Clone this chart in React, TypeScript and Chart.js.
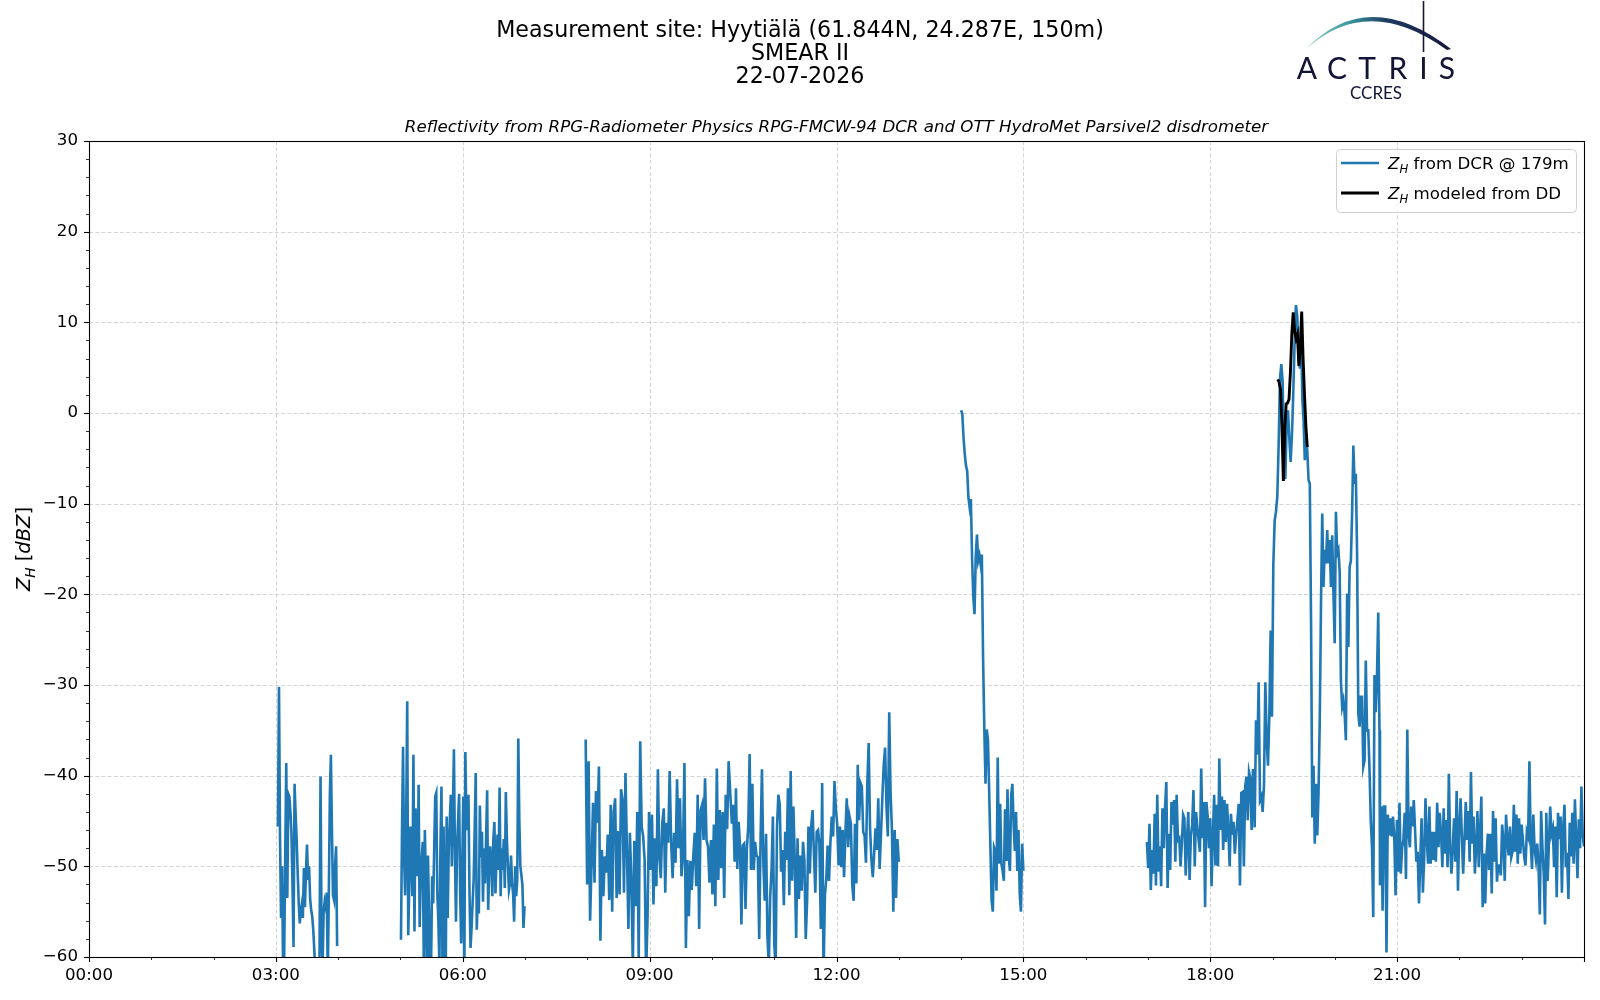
import React, { useEffect, useRef } from 'react';
import { Chart, registerables } from 'chart.js';

Chart.register(...registerables);

// ---------------- text ----------------
const TITLE_LINES = ['Measurement site: Hyytiälä (61.844N, 24.287E, 150m)', 'SMEAR II', '22-07-2026'];
const SUBTITLE = 'Reflectivity from RPG-Radiometer Physics RPG-FMCW-94 DCR and OTT HydroMet Parsivel2 disdrometer';
const LEGEND_DCR = ' from DCR @ 179m';
const LEGEND_DD = ' modeled from DD';

// ---------------- axes ----------------
const X_MIN_H = 0;
const X_MAX_H = 24;
const X_LABEL_HOURS = [0, 3, 6, 9, 12, 15, 18, 21];
const X_MINOR_HOURS = [0, 1, 2, 3, 4, 5, 6, 7, 8, 9, 10, 11, 12, 13, 14, 15, 16, 17, 18, 19, 20, 21, 22, 23, 24];
const Y_MIN = -60;
const Y_MAX = 30;
const Y_MAJOR = [-60, -50, -40, -30, -20, -10, 0, 10, 20, 30];
const Y_MINOR = [-58, -56, -54, -52, -48, -46, -44, -42, -38, -36, -34, -32, -28, -26, -24, -22, -18, -16, -14, -12, -8, -6, -4, -2, 2, 4, 6, 8, 12, 14, 16, 18, 22, 24, 26, 28];

// ---------------- DCR reflectivity (dBZ), pieces of the time series ----------------
// 03:02 - 03:59
const dcr0302 = [-45.6, -30.2, -47, -55.7, -50, -62, -60, -49, -38.6, -53.5, -42, -42.3, -44, -46.3, -52, -58.9, -40.9, -44.2, -47, -50.7,
  -54, -56.3, -55, -54.2, -55.7, -50.2, -54.5, -50.5, -47.6, -51.5, -50, -53.6, -54.8, -55.5, -57, -59.2, -62, -65, -68, -66,
  -61, -40.1, -57.3, -61, -55, -53.9, -54.5, -52.9, -62, -53, -42.1, -37.7, -46, -53.2, -53.7, -50, -47.8, -58.8];
// 05:00 - 07:00
const dcr0500 = [-58.1, -46, -36.8, -49, -53.2, -45.3, -31.8, -57.6, -52, -45.6, -49, -53.3, -37.7, -57.2, -43.6, -47, -51.1, -41, -56.7, -51.5,
  -49, -47.3, -61, -46, -52, -62, -48.8, -55, -63, -61, -51.1, -54.1, -48, -42.3, -41.9, -53, -56, -61, -48, -41.2,
  -62, -45.6, -55, -64, -44.5, -55.7, -48.2, -45, -42.1, -50, -43.8, -37.1, -49, -56.1, -47.8, -45, -42, -53, -58.5, -50,
  -42.3, -63, -37.4, -44.9, -46, -42.1, -53, -59, -56.8, -54, -51.5, -46, -39.7, -57, -53, -55.2, -43.3, -49, -46.2, -53.9,
  -48, -51.9, -47, -41.6, -54.8, -50, -47.8, -49.7, -53.3, -47, -45.1, -53, -49, -46.5, -50.4, -41.3, -53.3, -48, -50.4, -47,
  -52.4, -41.8, -46.9, -50, -52.6, -51.9, -48.8, -51.9, -53, -56.1, -50, -53.3, -51.5, -35.9, -45, -50, -51, -52.1, -56.8, -54.4];
// 07:58 - 10:16
const dcr0758 = [-36, -52, -38.4, -56, -49.8, -43, -51.8, -41.7, -45.2, -39, -58.2, -48.2, -53.3, -48.9, -50.7, -46.5, -53.7, -43.2, -55, -44,
  -42.5, -53.5, -46.1, -53.1, -41.5, -42.6, -52.9, -39.7, -48.2, -56.9, -46.3, -51.5, -61, -47.2, -54.4, -44, -60.5, -36.2, -45.6, -46.7,
  -49.3, -62, -55.5, -44, -50.4, -44.3, -54.2, -46.9, -52.2, -39.3, -49.1, -51.3, -45.2, -43.6, -52.9, -45.2, -47.4, -39.5, -47.4, -51.3,
  -46.3, -49.6, -40.4, -48, -42.5, -51.1, -48.9, -38.6, -59, -49.3, -55.5, -49.4, -52.6, -48.9, -46.3, -52.2, -42.1, -56.9, -43.8, -43.2,
  -47.1, -40.3, -47.1, -47.8, -51.8, -47.1, -53.1, -45.4, -54.4, -39.2, -51.5, -43.8, -50.2, -44, -53.5, -42.1, -45.9, -38.4];
// 10:19 - 13:00
const dcr1019 = [-45.3, -43.2, -49.5, -41.4, -50.3, -45.1, -47.9, -56.4, -47.7, -47.5, -54.7, -48, -45.6, -37.6, -50.4, -40.9, -50.4, -47.3, -48.8, -49,
  -58, -46.9, -39.3, -49.5, -53.8, -46.4, -57.7, -61, -53.4, -50.4, -44.5, -58.6, -61, -45.6, -42.1, -43.2, -50.6, -48.2, -54.3, -46.2,
  -49.3, -41.4, -53.2, -39.5, -51.6, -43.4, -49.5, -57.9, -46.9, -53.6, -48.8, -52.7, -47.3, -49.3, -58, -53.8, -45.6, -50.8, -45.6, -43.8,
  -48.6, -52.9, -46.2, -46, -47.5, -56.9, -40.8, -62, -53.2, -51.4, -47.7, -51.6, -47.5, -44.5, -46.7, -40.6, -43.6, -45.4, -49.9, -45.6,
  -50.1, -46, -51.2, -46.2, -42.5, -47.9, -44.5, -45.3, -52.1, -53.8, -45.3, -51.9, -38.8, -44.9, -40.8, -41.2, -46.2, -46.6, -49.6, -40.8,
  -36.4, -45.8, -49.3, -51.2, -48.6, -45.8, -48.2, -42.5, -50.3, -46.4, -42.3, -38.8, -36.9, -43.4, -46.7, -33, -41.9, -46, -55, -46,
  -53.5, -47, -49.5];
// 14:00 - 15:00
const dcr1400 = [0.3, -0.1, -2.7, -4.5, -5.8, -6.4, -9.3, -10.4, -9.5, -15.9, -20.3, -22.2, -15.9, -13.4, -16.3, -15.7, -16.7, -15.6, -26.9, -34.7,
  -40.9, -34.9, -36.1, -41.7, -47.9, -53.8, -55, -47.9, -48.3, -52.7, -38, -49.7, -43.1, -49.7, -50.5, -51.6, -43.7, -49.4, -41.5, -49,
  -50.5, -42.2, -40.9, -45.3, -48.3, -44, -50.5, -46, -53, -55, -47.5, -50.5];
// 16:59 - 18:41
const dcr1659 = [-47.3, -50.2, -45.3, -52.6, -48.2, -50.8, -44.2, -52.1, -42.1, -50.6, -47.8, -52.2, -43.6, -48, -43.6, -40.7, -52.4, -46.4, -50.4, -42.9,
  -45.4, -42.7, -49.5, -42.1, -47.1, -46.9, -50, -47.5, -44.3, -44.7, -51, -47.1, -44, -51.5, -46.7, -45.4, -41.6, -50, -44, -45.6,
  -47.1, -48.4, -39.2, -46.9, -42.9, -54.5, -42.9, -44.5, -48, -44.7, -52.2, -46.7, -42.1, -49.9, -43.2, -50, -38.1, -46, -42.3, -48.2,
  -42.7, -47.3, -43.1, -46, -50, -44.2, -46.5, -45.1, -48.6, -46.5, -44.9, -43.1, -52.1, -41.9, -41.8, -50, -41.2, -40.1, -44.9, -39.6,
  -40.3, -46, -39.4];
// 18:41 - 19:26
const dcr1841 = [-39.4, -45.7, -33.9, -37.7, -29.7, -42.7, -42.3, -44, -41, -29.7, -36, -38.9, -33.5, -24, -33.5, -16.8, -11.9, -10.9, -9.2, -3.5,
  3.7, 5.4, 3.5, -5, -7.3, -1.4, 0.3, -2.7, -5.4, -2.4, 2.2, 7.9, 11.9, 10.6, 6, 4.9];
// 19:27 - 20:43
const dcr1927 = [9.5, 1.5, -0.8, -5.2, -2.6, -4.2, -7.4, -7.8, -22.9, -44.6, -38.9, -47.5, -40.9, -46.6, -42, -33.9, -21, -11.1, -19.2, -15.1,
  -16.6, -12.9, -16.6, -14, -19.2, -13.5, -19.9, -25.4, -10.9, -15.5, -15.1, -17.4, -29.5, -32.4, -31.7, -33.2, -36.1, -19.9, -25.8, -17,
  -16.3, -11.1, -3.6, -7.8, -6.7, -15.5, -33.2, -34.6, -31.3, -31.3, -39, -38.3, -27.3, -35, -35, -39.4, -44.9, -47.9, -55.6, -28.9,
  -33, -29, -22, -35];
// 20:43 - 24:00
const dcr2043 = [-52.1, -43.4, -54.9, -43.4, -43.4, -59.5, -44.3, -46.6, -44.7, -46.7, -44.5, -46.9, -53.2, -44.9, -50.6, -43, -50.8, -48, -47.1, -44.1,
  -51.4, -34.9, -46.4, -47.9, -43.4, -45.6, -42.7, -46, -49.5, -48.4, -54.1, -49.3, -44.7, -52.9, -49.1, -42.5, -47.1, -49.7, -43.4, -49.7,
  -46.2, -49.3, -46.2, -49.5, -43, -47.9, -44.1, -46.4, -50.1, -43.6, -48.6, -44.9, -50.1, -39.8, -47.9, -50.8, -48, -44.7, -49.5, -41.7,
  -52.7, -45.6, -42.5, -46.7, -50.8, -47.1, -42.9, -47.1, -43.9, -49.5, -39.6, -47.5, -44.5, -50.8, -47.9, -43.9, -50.1, -46.2, -42.3, -54.5,
  -48.6, -54.1, -48.8, -46.4, -50.4, -46.4, -53, -43.9, -49.5, -44.7, -51.7, -49.9, -49.9, -51, -45.4, -47.1, -51.6, -44.3, -47.1, -48.8,
  -45.6, -49, -48.4, -43.2, -48.4, -44.3, -49.7, -44.7, -48.6, -45.4, -47.1, -49, -49.9, -46.2, -46.7, -38.4, -47.5, -50.3, -44.3, -48.2,
  -49.3, -47.5, -49.9, -55.3, -43.9, -47.9, -50.8, -56.4, -44.1, -51.6, -47.5, -43.4, -46.4, -45.8, -50.1, -45.6, -53.4, -44.1,
  -47, -44.5, -52.9, -45.8, -43.2, -50.1, -48.5, -53.6, -45.2, -48.9, -44.1, -49.7, -42.6, -47.2, -51.3, -44.8, -48, -41.2, -46.5, -47.8];

// piece timing: [start minute of day, end minute of day, values, starts a new line]
const dcrPieces: [number, number, number[], boolean][] = [
  [182, 239, dcr0302, true],
  [300.5, 419.5, dcr0500, true],
  [478.4, 616.1, dcr0758, true],
  [619.2, 780, dcr1019, false],
  [840, 900, dcr1400, true],
  [1019, 1121.1, dcr1659, true],
  [1121.5, 1166.4, dcr1841, false],
  [1167.5, 1243, dcr1927, false],
  [1243.5, 1440, dcr2043, false],
];

// ---------------- disdrometer-modelled reflectivity (dBZ) ----------------
const ddStartMin = 1145;
const ddEndMin = 1173.5;
const ddValues = [3.7, 3.4, 2.6, -1.6, -7.5, -1.6, 1.0, 1.1, 1.5, 4.5, 8.7, 11.1, 9.0, 8.2, 8.7, 5.2, 7.0, 11.2, 6.0, 2.0, -1.5, -3.75];

// ---------------- colours ----------------
const BLUE = '#1f77b4';
const BLACK = '#000000';

type Pt = { x: number; y: number | null };

function piecePoints(start: number, end: number, vals: number[]): Pt[] {
  const n = vals.length;
  return vals.map((v, i) => ({ x: (start + (n > 1 ? ((end - start) * i) / (n - 1) : 0)) / 60, y: v }));
}

function buildDcr(): Pt[] {
  const pts: Pt[] = [];
  dcrPieces.forEach(([s, e, vals, brk]) => {
    if (brk && pts.length) pts.push({ x: s / 60 - 0.005, y: null });
    pts.push(...piecePoints(s, e, vals));
  });
  return pts;
}

type Part = { t: string; it?: boolean; sub?: boolean };
const FAMILY = '"DejaVu Sans"';

function partFont(p: Part, size: number) {
  const s = p.sub ? size * 0.7 : size;
  return `${p.it ? 'italic ' : ''}${s}px ${FAMILY}`;
}

function partsWidth(ctx: CanvasRenderingContext2D, parts: Part[], size: number) {
  let w = 0;
  parts.forEach((p) => {
    ctx.font = partFont(p, size);
    w += ctx.measureText(p.t).width;
  });
  return w;
}

function drawParts(ctx: CanvasRenderingContext2D, parts: Part[], x: number, y: number, size: number, center: boolean) {
  const total = partsWidth(ctx, parts, size);
  let cx = center ? x - total / 2 : x;
  ctx.textAlign = 'left';
  ctx.textBaseline = 'alphabetic';
  parts.forEach((p) => {
    ctx.font = partFont(p, size);
    ctx.fillText(p.t, cx, y + (p.sub ? size * 0.24 : 0));
    cx += ctx.measureText(p.t).width;
  });
}

function drawLogo(ctx: CanvasRenderingContext2D) {
  ctx.save();
  const g = ctx.createLinearGradient(1306, 0, 1450, 0);
  g.addColorStop(0, '#86cbc6');
  g.addColorStop(0.3, '#3a98a2');
  g.addColorStop(0.55, '#1f3d62');
  g.addColorStop(1, '#15163a');
  ctx.beginPath();
  ctx.moveTo(1306, 49);
  ctx.quadraticCurveTo(1368, -15, 1451, 49);
  ctx.lineTo(1447, 50);
  ctx.quadraticCurveTo(1368, -7, 1306, 49);
  ctx.closePath();
  ctx.fillStyle = g;
  ctx.fill();
  ctx.strokeStyle = '#15163a';
  ctx.lineWidth = 1.6;
  ctx.beginPath();
  ctx.moveTo(1423.5, 1);
  ctx.lineTo(1423.5, 52);
  ctx.stroke();
  ctx.fillStyle = '#121436';
  ctx.textAlign = 'center';
  ctx.textBaseline = 'alphabetic';
  ctx.font = '30px Lato';
  const letters = ['A', 'C', 'T', 'R', 'I', 'S'];
  const centers = [1307, 1337, 1367, 1398, 1423.5, 1447];
  letters.forEach((l, i) => ctx.fillText(l, centers[i], 78.5));
  ctx.font = '17px Lato';
  ctx.fillText('CCRES', 1376, 99);
  ctx.restore();
}

const overlayPlugin = {
  id: 'overlay',
  beforeDatasetsDraw(chart: any) {
    const { ctx, chartArea: a, scales } = chart;
    const xs = scales.x;
    const ys = scales.y;
    ctx.save();
    ctx.strokeStyle = 'rgba(176,176,176,0.6)';
    ctx.lineWidth = 0.9;
    ctx.setLineDash([4, 2.2]);
    X_LABEL_HOURS.forEach((h) => {
      const px = Math.round(xs.getPixelForValue(h)) + 0.5;
      ctx.beginPath();
      ctx.moveTo(px, a.top);
      ctx.lineTo(px, a.bottom);
      ctx.stroke();
    });
    Y_MAJOR.forEach((v) => {
      const py = Math.round(ys.getPixelForValue(v)) + 0.5;
      ctx.beginPath();
      ctx.moveTo(a.left, py);
      ctx.lineTo(a.right, py);
      ctx.stroke();
    });
    ctx.restore();
  },
  afterDraw(chart: any) {
    const { ctx, chartArea: a, scales } = chart;
    const xs = scales.x;
    const ys = scales.y;
    ctx.save();
    // frame
    ctx.strokeStyle = '#000';
    ctx.lineWidth = 1.1;
    ctx.setLineDash([]);
    ctx.strokeRect(Math.round(a.left) + 0.5, Math.round(a.top) + 0.5, Math.round(a.right - a.left), Math.round(a.bottom - a.top));
    // tick marks
    X_MINOR_HOURS.forEach((h) => {
      const px = Math.round(xs.getPixelForValue(h)) + 0.5;
      const major = h % 3 === 0;
      ctx.lineWidth = major ? 1.1 : 0.8;
      ctx.beginPath();
      ctx.moveTo(px, a.bottom);
      ctx.lineTo(px, a.bottom + (major ? 5 : 3));
      ctx.stroke();
    });
    Y_MAJOR.forEach((v) => {
      const py = Math.round(ys.getPixelForValue(v)) + 0.5;
      ctx.lineWidth = 1.1;
      ctx.beginPath();
      ctx.moveTo(a.left, py);
      ctx.lineTo(a.left - 5, py);
      ctx.stroke();
    });
    Y_MINOR.forEach((v) => {
      const py = Math.round(ys.getPixelForValue(v)) + 0.5;
      ctx.lineWidth = 0.8;
      ctx.beginPath();
      ctx.moveTo(a.left, py);
      ctx.lineTo(a.left - 3, py);
      ctx.stroke();
    });

    // titles
    ctx.fillStyle = '#000';
    ctx.textAlign = 'center';
    ctx.textBaseline = 'alphabetic';
    ctx.font = `22.2px ${FAMILY}`;
    const baselines = [36.7, 59.5, 82.6];
    TITLE_LINES.forEach((t, i) => ctx.fillText(t, 800, baselines[i]));
    ctx.font = `italic 16.67px ${FAMILY}`;
    ctx.fillText(SUBTITLE, (a.left + a.right) / 2, 132);

    // y-axis label
    ctx.save();
    ctx.translate(30, (a.top + a.bottom) / 2);
    ctx.rotate(-Math.PI / 2);
    drawParts(ctx, [{ t: 'Z', it: true }, { t: 'H', it: true, sub: true }, { t: ' [' }, { t: 'dBZ', it: true }, { t: ']' }], 0, 0, 19.5, true);
    ctx.restore();

    // legend
    const lx = 1336;
    const ly = 149;
    const lw = 240;
    const lh = 63;
    ctx.beginPath();
    ctx.roundRect(lx + 0.5, ly + 0.5, lw, lh, 4);
    ctx.fillStyle = 'rgba(255,255,255,0.8)';
    ctx.fill();
    ctx.strokeStyle = '#d0d0d0';
    ctx.lineWidth = 1;
    ctx.stroke();
    const rows: [string, string, number][] = [
      [BLUE, LEGEND_DCR, 163],
      [BLACK, LEGEND_DD, 193],
    ];
    rows.forEach(([col, txt, cy]) => {
      ctx.strokeStyle = col;
      ctx.lineWidth = col === BLUE ? 2.6 : 2.9;
      ctx.beginPath();
      ctx.moveTo(lx + 5, cy);
      ctx.lineTo(lx + 43, cy);
      ctx.stroke();
      ctx.fillStyle = '#000';
      drawParts(ctx, [{ t: 'Z', it: true }, { t: 'H', it: true, sub: true }, { t: txt }], lx + 52, cy + 6, 16.67, false);
    });

    drawLogo(ctx);
    ctx.restore();
  },
};

export default function App() {
  const ref = useRef<HTMLCanvasElement | null>(null);
  useEffect(() => {
    if (!ref.current) return;
    const dcr = buildDcr();
    const dd = piecePoints(ddStartMin, ddEndMin, ddValues);
    const chart = new Chart(ref.current, {
      type: 'line',
      data: {
        datasets: [
          {
            label: 'ZH modeled from DD',
            data: dd as any,
            borderColor: BLACK,
            backgroundColor: BLACK,
            borderWidth: 2.9,
            pointRadius: 0,
            tension: 0,
            order: 0,
          },
          {
            label: 'ZH from DCR @ 179m',
            data: dcr as any,
            borderColor: BLUE,
            backgroundColor: BLUE,
            borderWidth: 2.6,
            pointRadius: 0,
            tension: 0,
            spanGaps: false,
            order: 1,
          },
        ],
      },
      options: {
        animation: false,
        responsive: false,
        devicePixelRatio: 1,
        events: [],
        layout: { padding: { left: 0, right: 16, top: 141, bottom: 0 } },
        plugins: { legend: { display: false }, tooltip: { enabled: false }, title: { display: false } },
        scales: {
          x: {
            type: 'linear',
            min: X_MIN_H,
            max: X_MAX_H,
            grid: { display: false, drawTicks: false },
            border: { display: false },
            afterFit: (s: any) => {
              s.height = 43;
            },
            ticks: {
              stepSize: 1,
              autoSkip: false,
              maxRotation: 0,
              minRotation: 0,
              padding: 9,
              color: '#000',
              font: { family: 'DejaVu Sans', size: 16.67 },
              callback: (v: any) => {
                const h = Number(v);
                return X_LABEL_HOURS.includes(h) ? `${String(h).padStart(2, '0')}:00` : '';
              },
            },
          },
          y: {
            type: 'linear',
            min: Y_MIN,
            max: Y_MAX,
            grid: { display: false, drawTicks: false },
            border: { display: false },
            afterFit: (s: any) => {
              s.width = 89;
            },
            ticks: {
              stepSize: 10,
              padding: 11,
              color: '#000',
              font: { family: 'DejaVu Sans', size: 16.67 },
              callback: (v: any) => String(v).replace('-', '\u2212'),
            },
          },
        },
      },
      plugins: [overlayPlugin],
    });
    return () => chart.destroy();
  }, []);
  return (
    <div style={{ position: 'absolute', left: 0, top: 0, width: 1600, height: 1000, background: '#fff' }}>
      <canvas ref={ref} width={1600} height={1000} style={{ display: 'block' }} />
    </div>
  );
}
